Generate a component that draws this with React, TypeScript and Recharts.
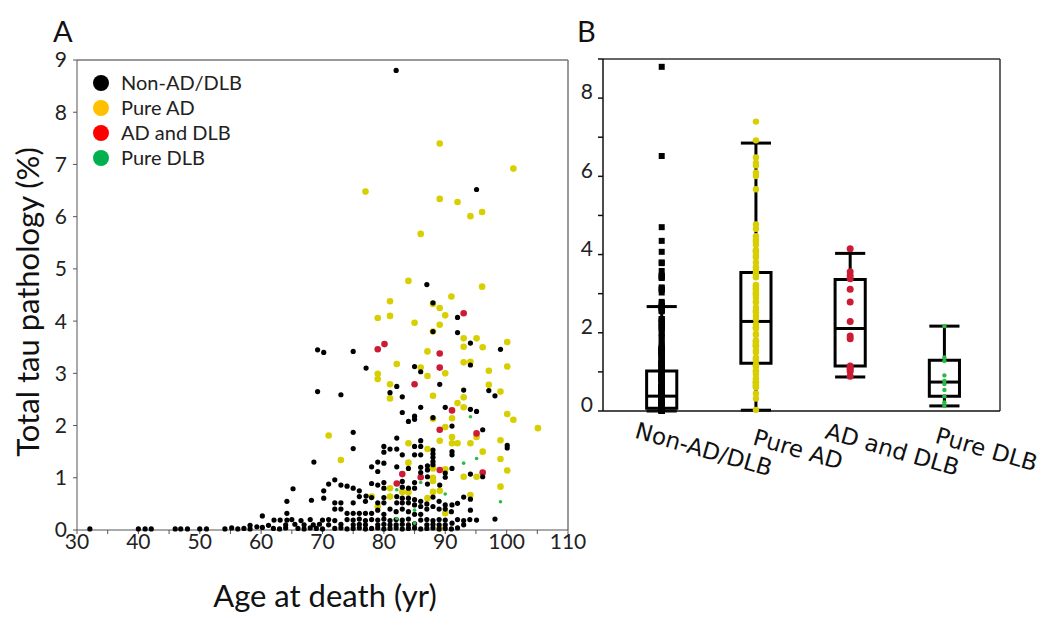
import React from 'react';
import { ScatterChart, Scatter, XAxis, YAxis, ReferenceLine, ReferenceArea, Legend } from 'recharts';

// Panel A: [age at death (yr), total tau pathology (%)]
const nonAdDlb: number[][] = [
  [82.0, 8.8], [95.1, 6.52], [87.0, 4.7], [88.0, 4.35], [92.0, 4.07], [88.0, 3.8], [92.0, 3.78], [94.1, 3.58],
  [99.0, 3.46], [69.2, 3.45], [70.2, 3.4], [75.0, 3.42], [94.1, 3.16], [85.0, 3.13], [77.1, 3.1], [86.0, 3.03],
  [89.1, 2.79], [82.1, 2.75], [93.0, 2.68], [97.1, 2.67], [98.1, 2.57], [69.2, 2.65], [73.0, 2.59], [81.0, 2.63],
  [83.0, 2.55], [86.0, 2.35], [90.0, 2.35], [94.1, 2.31], [95.1, 2.27], [83.0, 2.25], [85.0, 2.18], [85.0, 2.12],
  [84.0, 2.08], [88.0, 2.15], [91.1, 1.99], [96.1, 1.92], [75.0, 1.87], [82.1, 1.76], [86.0, 1.71],
  [100.1, 1.62], [100.1, 1.57], [75.0, 1.56], [80.0, 1.6], [81.0, 1.55], [85.0, 1.6], [86.0, 1.6], [88.0, 1.53],
  [88.0, 1.46], [88.0, 1.39], [88.0, 1.31], [85.0, 1.44], [86.0, 1.44], [91.1, 1.5], [91.1, 1.44], [82.1, 1.55],
  [80.0, 1.49], [83.0, 1.44], [68.6, 1.3], [79.0, 1.3], [78.0, 1.21], [79.0, 1.12], [80.0, 1.28], [82.1, 1.21],
  [84.0, 1.18], [88.0, 1.25], [86.0, 1.2], [86.0, 1.1], [87.1, 1.23], [87.1, 1.15], [90.0, 1.09], [91.1, 1.18],
  [94.1, 1.07], [96.1, 1.02], [87.1, 1.02], [90.0, 1.01],
  [71, 0.88], [72, 0.96], [73, 0.86], [74, 0.84], [75, 0.8], [76, 0.75], [77.1, 0.65], [78, 0.89], [79, 0.86],
  [80, 0.91], [80, 0.8], [83, 0.93], [83, 0.82], [85, 0.91], [85, 0.8], [87.1, 0.88], [89.1, 0.86], [84, 0.8],
  [88, 0.63], [93, 0.63], [94.1, 0.59], [65.2, 0.79], [68.2, 0.57], [70.2, 0.75], [70.2, 0.61], [72, 0.52],
  [73, 0.52], [75, 0.52], [76, 0.64], [77, 0.55], [78, 0.62], [79, 0.52], [80, 0.62], [80, 0.52], [82.1, 0.64],
  [82.1, 0.52], [83, 0.61], [83, 0.52], [84, 0.61], [84, 0.52], [85, 0.58], [85, 0.48], [64.2, 0.55], [92, 0.51],
  [91.1, 0.48], [90, 0.48], [86, 0.55], [87, 0.5], [89, 0.55],
  [64.2, 0.32], [79, 0.38], [72, 0.4], [73, 0.4], [74, 0.32], [75, 0.32], [76, 0.32], [77, 0.32], [78, 0.32],
  [94.1, 0.38], [86, 0.45], [87, 0.4], [88, 0.45], [89, 0.4], [90, 0.4], [91, 0.35], [81, 0.4], [82, 0.35],
  [83, 0.4], [84, 0.35], [85, 0.3], [86, 0.3], [80, 0.3], [60.2, 0.27], [95.1, 0.19], [98.1, 0.21],
  [62.1, 0.19], [63.1, 0.19], [64.2, 0.19], [65, 0.2], [66.5, 0.18], [68, 0.2], [70, 0.19], [71, 0.2], [72, 0.18],
  [74, 0.2], [75, 0.19], [76, 0.21], [77, 0.18], [78, 0.2], [79, 0.19], [80, 0.21], [81, 0.18], [82, 0.2],
  [83, 0.19], [84, 0.21], [86, 0.19], [87, 0.2], [88, 0.18], [89, 0.2], [90, 0.19], [92, 0.2], [93, 0.18], [94, 0.2],
  [58.2, 0.09], [61.2, 0.09], [64, 0.1], [65.5, 0.11], [67, 0.1], [68.5, 0.1], [69.5, 0.11], [71, 0.1], [73, 0.11],
  [75, 0.1], [76, 0.11], [77, 0.1], [79, 0.1], [80, 0.11], [81, 0.1], [82, 0.1], [83, 0.11], [84, 0.1], [85, 0.12],
  [87, 0.1], [88, 0.11], [89, 0.1], [90, 0.1], [91.1, 0.13], [93, 0.1],
  [32.1, 0.02], [40, 0.02], [41.1, 0.02], [42.1, 0.02], [46, 0.02], [46.9, 0.02], [48, 0.02], [50, 0.02],
  [51.1, 0.02], [54.1, 0.02], [55.2, 0.04], [56.2, 0.02], [57.2, 0.03], [58.2, 0.02], [59.3, 0.06], [60.2, 0.05],
  [62, 0.03], [63, 0.02], [64, 0.04], [66, 0.03], [67, 0.02], [68, 0.04], [69, 0.03], [70, 0.02], [72, 0.03],
  [73, 0.04], [74, 0.02], [75, 0.03], [76, 0.04], [77, 0.02], [78, 0.03], [79, 0.04], [80, 0.02], [81, 0.03],
  [82, 0.04], [83, 0.02], [84, 0.03], [85, 0.04], [86, 0.02], [87, 0.03], [88, 0.04], [89, 0.02], [90, 0.03],
  [91, 0.02], [92, 0.04],
];

const pureAd: number[][] = [
  [89.1, 7.4], [101.1, 6.92], [77.0, 6.48], [89.1, 6.34], [92.0, 6.28], [94.1, 6.01], [96.0, 6.09], [86.0, 5.67],
  [84.0, 4.77], [96.0, 4.66], [91.0, 4.47], [81.0, 4.38], [88.0, 4.33], [89.1, 4.25], [90.0, 4.11], [79.0, 4.06],
  [81.0, 4.1], [85.0, 3.97], [89.1, 3.93], [88.0, 3.8], [93.0, 3.67], [95.1, 3.67], [93.0, 3.51], [96.1, 3.5],
  [100.1, 3.6], [87.1, 3.42], [82.1, 3.18], [93.0, 3.21], [94.1, 3.22], [86.0, 3.11], [90.0, 3.0], [97.1, 3.05],
  [100.1, 3.13], [79.0, 2.99], [79.0, 2.89], [87.1, 2.95], [81.0, 2.79], [97.1, 2.78], [99.0, 2.65], [81.0, 2.52],
  [88.0, 2.57], [93.0, 2.54], [92.0, 2.43], [93.0, 2.35], [88.0, 2.13], [91.1, 2.14], [100.1, 2.22], [101.1, 2.11],
  [105.1, 1.95], [90.0, 1.97], [95.1, 1.78], [71.0, 1.81], [89.1, 1.71], [91.1, 1.78], [91.1, 1.66], [92.0, 1.66],
  [94.1, 1.66], [84.0, 1.66], [99.0, 1.72], [87.1, 1.55], [96.1, 1.5], [99.0, 1.36], [73.0, 1.34], [84.0, 1.29],
  [90.0, 1.16], [88.0, 1.18], [93.0, 1.02], [95.1, 1.02], [100.1, 1.14], [88.0, 1.0], [88.0, 0.94], [88.0, 0.73],
  [89.1, 0.75], [81.0, 0.8], [81.0, 0.64], [83.0, 0.73], [84.0, 0.72], [87.1, 0.61], [94.1, 0.67], [99.0, 0.83],
  [78.0, 0.64], [79.0, 0.45], [90.0, 0.32], [89.1, 0.03],
];

const adAndDlb: number[][] = [
  [93.0, 4.15], [80.1, 3.56], [79.0, 3.46], [89.1, 3.38], [89.1, 3.11], [85.0, 2.79], [91.1, 2.29], [89.1, 1.92],
  [95.1, 1.85], [89.1, 1.15], [96.1, 1.1], [83.0, 1.07], [86.0, 1.01], [82.1, 0.89],
];

const pureDlb: number[][] = [
  [94.1, 2.17], [95.1, 1.37], [93.0, 1.28], [82.1, 0.77], [86.0, 0.91], [90.0, 0.69], [99.0, 0.54], [85.0, 0.38],
  [85.0, 0.13], [82.1, 0.22],
];

const ageTicks = [30, 35, 40, 45, 50, 55, 60, 65, 70, 75, 80, 85, 90, 95, 100, 105, 110];
const tauTicks = [0, 1, 2, 3, 4, 5, 6, 7, 8, 9];

// Panel B: box plot summary per group
const groups = ['Non-AD/DLB', 'Pure AD', 'AD and DLB', 'Pure DLB'];
const whiskerLow = [0, 0.02, 0.87, 0.13];
const q1 = [0.07, 1.22, 1.15, 0.38];
const medians = [0.38, 2.29, 2.11, 0.74];
const q3 = [1.02, 3.54, 3.36, 1.3];
const whiskerHigh = [2.67, 6.85, 4.03, 2.17];

const toPoints = (pairs: number[][]) => pairs.map(([age, tau]) => ({ age, tau }));

const series = [
  { name: 'Non-AD/DLB', pairs: nonAdDlb, color: '#000000', legend: '#000000', r: 2.6 },
  { name: 'Pure AD', pairs: pureAd, color: '#d8cf00', legend: '#ffc000', r: 3.3 },
  { name: 'AD and DLB', pairs: adAndDlb, color: '#cc1b35', legend: '#ff0000', r: 3.3 },
  { name: 'Pure DLB', pairs: pureDlb, color: '#2bbb45', legend: '#00b050', r: 1.8 },
];
const drawOrder = [1, 2, 0, 3];

const tickFont = { fontFamily: 'Lato', fontSize: 21, fill: '#222' };
const HALF = 0.16;

const LegendBox = () => (
  <div style={{ fontFamily: 'Lato', fontSize: 20, color: '#222', lineHeight: '25px' }}>
    {series.map((s) => (
      <div key={s.name} style={{ display: 'flex', alignItems: 'center' }}>
        <span style={{ width: 16, height: 16, borderRadius: 8, background: s.legend, marginRight: 12, display: 'inline-block' }} />
        {s.name}
      </div>
    ))}
  </div>
);

const GroupTick = (props: any) => {
  const { x, y, payload } = props;
  const label = groups[payload.value - 1];
  if (!label) return null;
  const tx = x + 40;
  const ty = y + 46;
  return (
    <text x={tx} y={ty} textAnchor="middle" transform={`rotate(16 ${tx} ${ty})`}
      style={{ fontFamily: 'DejaVu Sans', fontSize: 23, fill: '#111' }}>
      {label}
    </text>
  );
};

const BTick = (props: any) => {
  const { x, y, payload } = props;
  if (payload.value % 2 !== 0) return null;
  return (
    <text x={x - 2} y={y - 6} dy="0.35em" textAnchor="end" style={{ fontFamily: 'Lato', fontSize: 21, fill: '#222' }}>
      {payload.value}
    </text>
  );
};

export default function App() {
  const dots = groups.map((_, i) =>
    series[i].pairs.map(([, tau]) => ({ g: i + 1, tau })),
  );

  return (
    <div style={{ position: 'absolute', left: 0, top: 0, width: 1047, height: 617, background: '#fff' }}>
      <div style={{ position: 'absolute', left: 53, top: 16, lineHeight: '29px', fontFamily: 'Lato', fontSize: 29, color: '#111' }}>A</div>
      <div style={{ position: 'absolute', left: 577, top: 16, lineHeight: '29px', fontFamily: 'Lato', fontSize: 29, color: '#111' }}>B</div>

      <div style={{ position: 'absolute', left: 0, top: 0 }}>
        <ScatterChart width={600} height={617} margin={{ top: 60, right: 32, bottom: 0, left: 0 }}>
          <XAxis type="number" dataKey="age" domain={[30, 110]} ticks={ageTicks} interval={0}
            tickFormatter={(v) => (v % 10 === 0 ? String(v) : '')}
            height={87} tickSize={4} tickMargin={0}
            stroke="#555" tick={tickFont} />
          <YAxis type="number" dataKey="tau" domain={[0, 9]} ticks={tauTicks} interval={0}
            width={77} tickSize={4} tickMargin={6} stroke="#555" tick={tickFont} />
          <ReferenceLine y={9} stroke="#777" strokeWidth={1.5} />
          <ReferenceLine x={110} stroke="#777" strokeWidth={1.5} />
          {drawOrder.map((i) => {
            const s = series[i];
            return (
              <Scatter key={s.name} name={s.name} data={toPoints(s.pairs)} fill={s.color} isAnimationActive={false}
                shape={(p: any) => <circle cx={p.cx} cy={p.cy} r={s.r} fill={s.color} />} />
            );
          })}
          <Legend layout="vertical" align="center" verticalAlign="middle" content={<LegendBox />}
            wrapperStyle={{ left: 93, top: 70, width: 200 }} />
        </ScatterChart>
      </div>

      <div style={{ position: 'absolute', left: 560, top: 0 }}>
        <ScatterChart width={487} height={617} margin={{ top: 59, right: 47, bottom: 0, left: 0 }}>
          <XAxis type="number" dataKey="g" domain={[0.377, 4.59]} ticks={[1, 2, 3, 4]} interval={0}
            height={206} tickSize={0} tickMargin={0} stroke="#111" strokeWidth={1.5} tick={<GroupTick />} />
          <YAxis type="number" dataKey="tau" domain={[0, 9]} ticks={tauTicks} interval={0}
            width={43} tickSize={5} tickMargin={3} stroke="#111" strokeWidth={1.5} tick={<BTick />} />
          <ReferenceLine y={9} stroke="#333" strokeWidth={1.5} />
          <ReferenceLine x={4.59} stroke="#333" strokeWidth={1.5} />
          {groups.map((g, i) => {
            const c = i + 1;
            return (
              <React.Fragment key={g}>
                <ReferenceLine segment={[{ x: c, y: whiskerLow[i] }, { x: c, y: q1[i] }]} stroke="#000" strokeWidth={3} />
                <ReferenceLine segment={[{ x: c, y: q3[i] }, { x: c, y: whiskerHigh[i] }]} stroke="#000" strokeWidth={3} />
                <ReferenceLine segment={[{ x: c - HALF, y: whiskerLow[i] }, { x: c + HALF, y: whiskerLow[i] }]} stroke="#000" strokeWidth={3} />
                <ReferenceLine segment={[{ x: c - HALF, y: whiskerHigh[i] }, { x: c + HALF, y: whiskerHigh[i] }]} stroke="#000" strokeWidth={3} />
                <ReferenceArea x1={c - HALF} x2={c + HALF} y1={q1[i]} y2={q3[i]} fill="none" stroke="#000" strokeWidth={3} />
                <ReferenceLine segment={[{ x: c - HALF, y: medians[i] }, { x: c + HALF, y: medians[i] }]} stroke="#000" strokeWidth={3} />
              </React.Fragment>
            );
          })}
          <Scatter data={dots[0]} isAnimationActive={false}
            shape={(p: any) => <rect x={p.cx - 3} y={p.cy - 3} width={6} height={6} fill="#000" />} />
          <Scatter data={dots[1]} isAnimationActive={false}
            shape={(p: any) => <circle cx={p.cx} cy={p.cy} r={3.2} fill="#d8cf00" />} />
          <Scatter data={dots[2]} isAnimationActive={false}
            shape={(p: any) => <circle cx={p.cx} cy={p.cy} r={3.5} fill="#cc1b35" />} />
          <Scatter data={dots[3]} isAnimationActive={false}
            shape={(p: any) => <circle cx={p.cx} cy={p.cy} r={2.2} fill="#2bbb45" />} />
        </ScatterChart>
      </div>

      <div style={{ position: 'absolute', left: 27 - 200, top: 302 - 20, width: 400, height: 40, lineHeight: '40px',
        textAlign: 'center', transform: 'rotate(-90deg)', fontFamily: 'Lato', fontSize: 31, color: '#111' }}>
        Total tau pathology (%)
      </div>
      <div style={{ position: 'absolute', left: 125, top: 576, width: 400, textAlign: 'center',
        fontFamily: 'Lato', fontSize: 31, color: '#111' }}>
        Age at death (yr)
      </div>
    </div>
  );
}
